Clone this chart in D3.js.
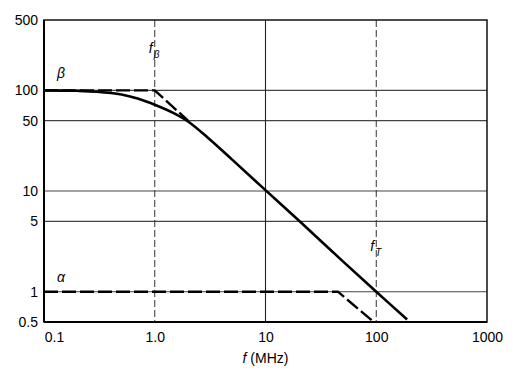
<!DOCTYPE html>
<html>
<head>
<meta charset="utf-8">
<script src="https://cdn.jsdelivr.net/npm/d3@7"></script>
<style>
  body { margin: 0; background: #fff; }
  svg { display: block; font-family: "Liberation Sans", Arial, sans-serif; }
</style>
</head>
<body>
<div id="root"></div>
<script>
// frequency ticks (MHz) and gain ticks
var xTicks = [0.1, 1, 10, 100, 1000];
var xTickLabels = ["0.1", "1.0", "10", "100", "1000"];
var yTicks = [0.5, 1, 5, 10, 50, 100, 500];
var yGrid = [1, 5, 10, 50, 100];

var betaF = [0.1, 0.2, 0.3, 0.5, 0.7, 1, 1.5, 2, 3, 5, 10, 20, 50, 100, 190];
var betaV = [100, 99, 97, 91, 83, 72, 59, 49, 34, 20.5, 10.2, 5.1, 2, 1, 0.53];

// beta asymptote (dashed)
var betaAsF = [0.1, 1, 2];
var betaAsV = [100, 100, 50];

// alpha (dashed)
var alphaF = [0.1, 45, 95];
var alphaV = [1, 1, 0.5];

var fBeta = 1, fT = 100;

var margin = {top: 20, right: 26, bottom: 52, left: 44},
    width = 513 - margin.left - margin.right,
    height = 374 - margin.top - margin.bottom;

var x = d3.scaleLog().domain([0.1, 1000]).range([0, width]);
var y = d3.scaleLog().domain([0.5, 500]).range([height, 0]);

var svg = d3.select("#root").append("svg")
    .attr("width", 513)
    .attr("height", 374)
  .append("g")
    .attr("transform", "translate(" + margin.left + "," + margin.top + ")");

// horizontal grid
svg.selectAll(".hgrid").data(yGrid).enter().append("line")
    .attr("x1", 0).attr("x2", width)
    .attr("y1", function(d) { return y(d); })
    .attr("y2", function(d) { return y(d); })
    .attr("stroke", "#444").attr("stroke-width", 1.1);

// vertical grid at 10
svg.append("line")
    .attr("x1", x(10)).attr("x2", x(10))
    .attr("y1", 0).attr("y2", height)
    .attr("stroke", "#222").attr("stroke-width", 1.1);

// f_beta and f_T markers
svg.selectAll(".vdash").data([fBeta, fT]).enter().append("line")
    .attr("x1", function(d) { return x(d); })
    .attr("x2", function(d) { return x(d); })
    .attr("y1", 0).attr("y2", height)
    .attr("stroke", "#333").attr("stroke-width", 1)
    .attr("stroke-dasharray", "7,3");

// frame
svg.append("rect")
    .attr("width", width).attr("height", height)
    .attr("fill", "none").attr("stroke", "#111").attr("stroke-width", 1.5);
svg.append("line").attr("x1", 0).attr("x2", 0).attr("y1", 0).attr("y2", height)
    .attr("stroke", "#000").attr("stroke-width", 2);
svg.append("line").attr("x1", 0).attr("x2", width).attr("y1", height).attr("y2", height)
    .attr("stroke", "#000").attr("stroke-width", 2);

// axes (labels only)
var xAxis = svg.append("g")
    .attr("transform", "translate(0," + height + ")")
    .call(d3.axisBottom(x).tickValues(xTicks)
      .tickFormat(function(d, i) { return xTickLabels[i]; })
      .tickSize(0).tickPadding(10));
var yAxis = svg.append("g")
    .call(d3.axisLeft(y).tickValues(yTicks)
      .tickFormat(d3.format("")).tickSize(0).tickPadding(6));
[xAxis, yAxis].forEach(function(a) {
  a.select(".domain").remove();
  a.selectAll("text").attr("font-size", 14).attr("fill", "#000")
    .attr("font-family", "Liberation Sans, Arial, sans-serif");
});
xAxis.select(".tick:first-of-type text").attr("dx", 10);

var line = d3.line()
    .x(function(d) { return x(d[0]); })
    .y(function(d) { return y(d[1]); });

var betaPts = d3.zip(betaF, betaV);
svg.append("path")
    .attr("d", line.curve(d3.curveCatmullRom.alpha(0.5))(betaPts))
    .attr("fill", "none").attr("stroke", "#000").attr("stroke-width", 2.6);

line.curve(d3.curveLinear);
svg.append("path")
    .attr("d", line(d3.zip(betaAsF, betaAsV)))
    .attr("fill", "none").attr("stroke", "#000").attr("stroke-width", 2.4)
    .attr("stroke-dasharray", "14,4");
svg.append("path")
    .attr("d", line(d3.zip(alphaF, alphaV)))
    .attr("fill", "none").attr("stroke", "#000").attr("stroke-width", 2.4)
    .attr("stroke-dasharray", "14,4");

// labels
function sym(tx, ty, main, sub) {
  var t = svg.append("text").attr("x", tx).attr("y", ty)
      .attr("font-size", 14).attr("font-style", "italic").attr("fill", "#000");
  t.append("tspan").text(main);
  if (sub) t.append("tspan").attr("font-size", 10).attr("dy", 5).attr("dx", 1).text(sub);
}
sym(x(0.1) + 13, y(100) - 12, "\u03b2");
sym(x(0.1) + 13, y(1) - 10, "\u03b1");
sym(x(fBeta) - 6, 33, "f", "\u03b2");
sym(x(fT) - 6, y(1) - 41, "f", "T");

var xl = svg.append("text")
    .attr("x", x(10)).attr("y", height + 41)
    .attr("text-anchor", "middle").attr("font-size", 14).attr("fill", "#000");
xl.append("tspan").attr("font-style", "italic").text("f");
xl.append("tspan").text(" (MHz)");
</script>
</body>
</html>
